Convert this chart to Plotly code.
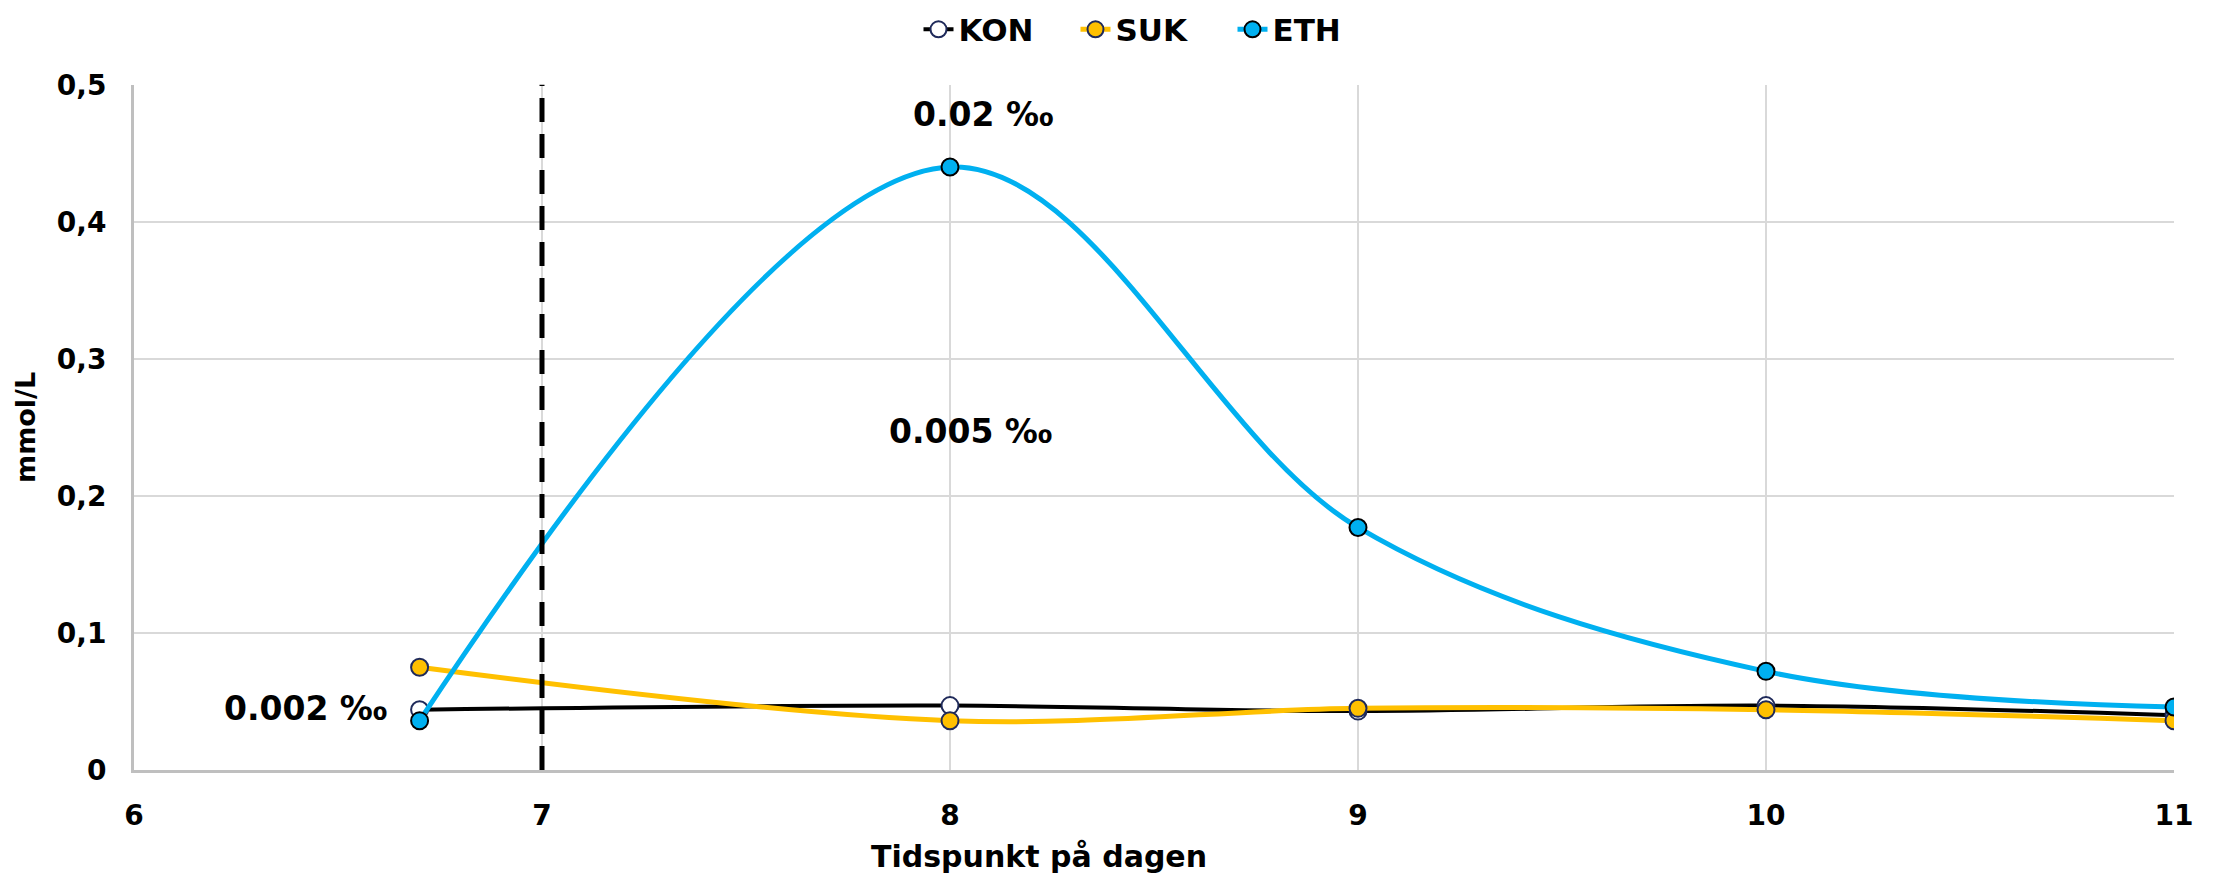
import plotly.graph_objects as go

x_vals = [6.7, 8, 9, 10, 11]
kon = [0.044, 0.047, 0.043, 0.047, 0.040]
suk = [0.075, 0.036, 0.045, 0.044, 0.036]
eth = [0.036, 0.44, 0.177, 0.072, 0.046]

x_ticks = [6, 7, 8, 9, 10, 11]
y_ticks = [0, 0.1, 0.2, 0.3, 0.4, 0.5]
y_ticklabels = ["0", "0,1", "0,2", "0,3", "0,4", "0,5"]

ann_text = ["0.02 ‰", "0.005 ‰", "0.002 ‰"]
ann_x = [8.08, 8.05, 6.42]
ann_y = [0.478, 0.247, 0.045]

marker_line = "#1F2A5A"
FONT = "DejaVu Sans"

fig = go.Figure()
fig.add_trace(go.Scatter(x=x_vals, y=kon, name="KON", mode="lines+markers",
                         line=dict(color="black", width=4, shape="spline", smoothing=1),
                         marker=dict(size=17, color="white", line=dict(color=marker_line, width=2))))
fig.add_trace(go.Scatter(x=x_vals, y=suk, name="SUK", mode="lines+markers",
                         line=dict(color="#FFC000", width=5, shape="spline", smoothing=1),
                         marker=dict(size=17, color="#FFC000", line=dict(color=marker_line, width=2))))
fig.add_trace(go.Scatter(x=x_vals, y=eth, name="ETH", mode="lines+markers",
                         line=dict(color="#00B0F0", width=5, shape="spline", smoothing=1),
                         marker=dict(size=17, color="#00B0F0", line=dict(color="black", width=2))))

fig.add_shape(type="line", x0=7, x1=7, y0=0, y1=0.505, xref="x", yref="y",
              line=dict(color="black", width=5, dash="24px,12px"), layer="above")

for t, ax, ay in zip(ann_text, ann_x, ann_y):
    fig.add_annotation(x=ax, y=ay, text="<b>" + t + "</b>", showarrow=False,
                       font=dict(family=FONT, size=33, color="black"))

# x-axis title (offset left of centre, as in the original)
fig.add_annotation(x=0.4435, xref="paper", y=0, yref="paper", yshift=-86, yanchor="middle",
                   text="<b>Tidspunkt på dagen</b>", showarrow=False,
                   font=dict(family=FONT, size=30, color="black"))

fig.update_layout(
    width=2216, height=879,
    margin=dict(l=134, r=42, t=76, b=109),
    paper_bgcolor="white", plot_bgcolor="white",
    font=dict(family=FONT, color="black"),
    showlegend=True,
    legend=dict(orientation="h", x=0.5, xanchor="center", y=0.997, yanchor="top",
                yref="container", font=dict(family=FONT, size=31, color="black", weight="bold"),
                entrywidth=112, entrywidthmode="pixels", tracegroupgap=0),
    xaxis=dict(range=[6, 11], tickvals=x_ticks, showgrid=True, gridcolor="#D9D9D9", gridwidth=2,
               showline=True, linecolor="#BFBFBF", linewidth=3, zeroline=False,
               ticks="", ticklabelstandoff=18,
               tickfont=dict(family=FONT, size=28, color="black", weight="bold")),
    yaxis=dict(range=[0, 0.5], tickvals=y_ticks, ticktext=y_ticklabels, showgrid=True,
               gridcolor="#D9D9D9", gridwidth=2, showline=True, linecolor="#BFBFBF", linewidth=3,
               zeroline=False, ticks="", ticklabelstandoff=19,
               tickfont=dict(family=FONT, size=28, color="black", weight="bold"),
               title=dict(text="mmol/L", font=dict(family=FONT, size=27, color="black", weight="bold"), standoff=14)),
)

fig.write_html("out.html")
